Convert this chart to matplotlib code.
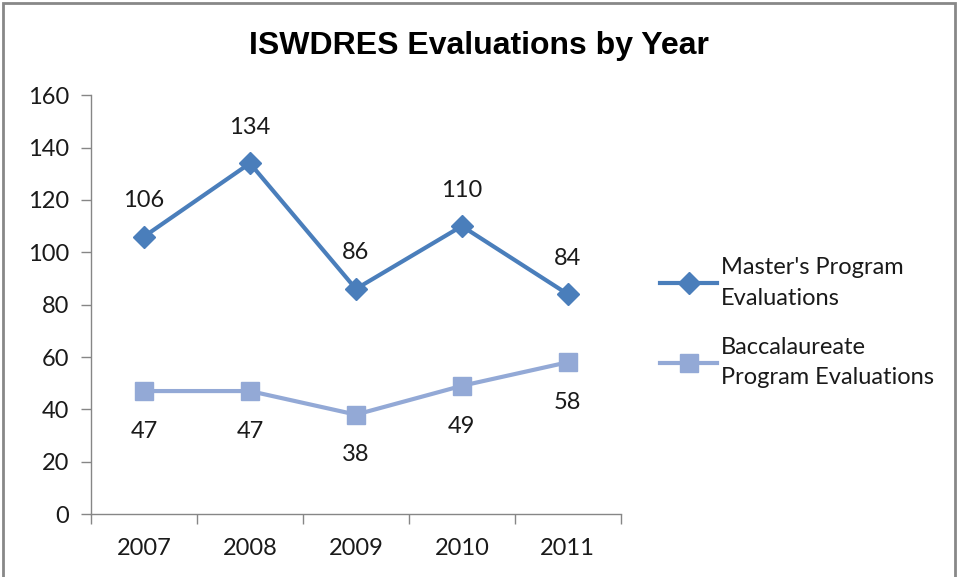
import matplotlib.pyplot as plt
from matplotlib.patches import Rectangle

years = ["2007", "2008", "2009", "2010", "2011"]
masters = [106, 134, 86, 110, 84]
bacc = [47, 47, 38, 49, 58]

master_color = "#4A7EBB"
bacc_color = "#93A9D6"
axis_gray = "#868686"

plt.rcParams["font.family"] = ["Lato", "DejaVu Sans"]

fig = plt.figure(figsize=(9.58, 5.77), dpi=100)
ax = fig.add_axes([0.095, 0.109, 0.553, 0.726])

x = range(len(years))
ax.plot(x, masters, color=master_color, lw=3, marker="D", ms=11,
        label="Master's Program\nEvaluations")
ax.plot(x, bacc, color=bacc_color, lw=3, marker="s", ms=13,
        label="Baccalaureate\nProgram Evaluations")

# data labels: above for master's, below for baccalaureate
for i, v in enumerate(masters):
    ax.annotate(str(v), (i, v), xytext=(0, 26), textcoords="offset points",
                ha="center", va="center", fontsize=17, color="#1a1a1a")
for i, v in enumerate(bacc):
    ax.annotate(str(v), (i, v), xytext=(0, -29), textcoords="offset points",
                ha="center", va="center", fontsize=17, color="#1a1a1a")

ax.set_xlim(-0.5, len(years) - 0.5)
ax.set_ylim(0, 160)
ax.set_yticks(range(0, 161, 20))
ax.set_xticks([i + 0.5 for i in range(-1, len(years))])
ax.set_xticklabels([])
ax.set_xticks(list(x), minor=True)
ax.set_xticklabels(years, minor=True)
ax.tick_params(axis="x", which="major", length=7, color=axis_gray, width=1)
ax.tick_params(axis="x", which="minor", length=0, pad=17, labelsize=17)
ax.tick_params(axis="y", length=7, color=axis_gray, width=1, labelsize=17, pad=9)
for lab in ax.get_xticklabels(minor=True) + ax.get_yticklabels():
    lab.set_color("#1a1a1a")

for s in ["top", "right"]:
    ax.spines[s].set_visible(False)
for s in ["left", "bottom"]:
    ax.spines[s].set_color(axis_gray)
    ax.spines[s].set_linewidth(1)

fig.text(0.5, 0.92, "ISWDRES Evaluations by Year", ha="center", va="center",
         fontsize=23, fontweight="bold", family=["Liberation Sans", "DejaVu Sans"])

leg = ax.legend(loc="center left", bbox_to_anchor=(1.057, 0.457), frameon=False,
                fontsize=17, handlelength=2.4, handletextpad=0.15,
                labelspacing=1.18, borderaxespad=0)
for t in leg.get_texts():
    t.set_linespacing(1.55)
    t.set_color("#1a1a1a")

fig.add_artist(Rectangle((0.003, -0.01), 0.994, 1.005, transform=fig.transFigure,
                         fill=False, edgecolor="#888888", lw=2))

fig.savefig("out.png", dpi=100)
